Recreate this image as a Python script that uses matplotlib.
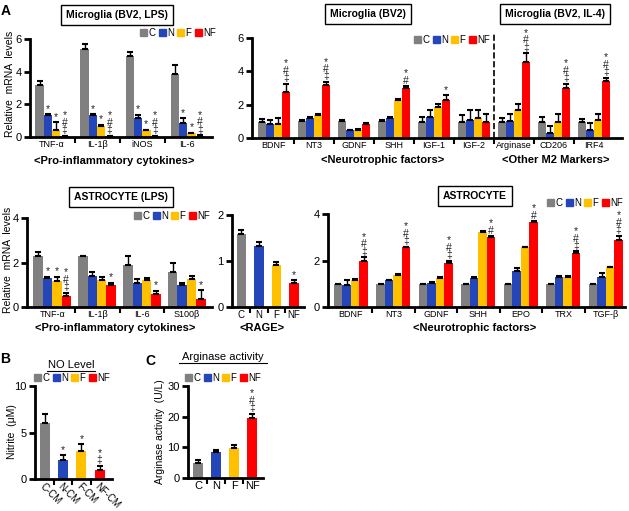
import matplotlib
matplotlib.use('Agg')
import matplotlib.pyplot as plt
from matplotlib.patches import Patch
from matplotlib.lines import Line2D
import numpy as np

plt.rcParams['font.family'] = ['Liberation Sans', 'DejaVu Sans']

W, H = 629, 511
conds = ['C', 'N', 'F', 'NF']
colors = ['#808080', '#2446B8', '#FFC000', '#FF0000']

# A - microglia BV2 + LPS (rows: C, N, F, NF)
mg_lps_genes = ['TNF-α', 'IL-1β', 'iNOS', 'IL-6']
mg_lps_mean = [[3.2, 5.4, 4.95, 3.85],
               [1.35, 1.35, 1.15, 0.85],
               [0.4, 0.7, 0.4, 0.22],
               [0.05, 0.05, 0.05, 0.08]]
mg_lps_err = [[0.2, 0.3, 0.25, 0.55],
              [0.05, 0.05, 0.2, 0.3],
              [0.5, 0.05, 0.05, 0.05],
              [0.02, 0.02, 0.02, 0.03]]
mg_lps_sig = [['', '', '', ''],
              ['*', '*', '*', '*'],
              ['*', '*', '*', '*'],
              ['*#‡', '*#‡', '*#‡', '*#‡']]

# A - microglia BV2 / BV2 + IL-4
mg_genes = ['BDNF', 'NT3', 'GDNF', 'SHH', 'IGF-1', 'IGF-2', 'Arginase', 'CD206', 'IRF4']
mg_mean = [[0.96, 1.02, 1.02, 1.02, 0.96, 0.96, 0.96, 0.96, 0.96],
           [0.86, 1.22, 0.46, 1.2, 1.26, 1.06, 1.02, 0.3, 0.5],
           [0.86, 1.4, 0.5, 2.3, 1.86, 1.22, 1.66, 0.96, 1.06],
           [2.76, 3.16, 0.86, 3.02, 2.3, 0.96, 4.56, 3.02, 3.42]]
mg_err = [[0.2, 0.05, 0.05, 0.05, 0.3, 0.4, 0.26, 0.3, 0.2],
          [0.2, 0.05, 0.03, 0.03, 0.4, 0.6, 0.4, 0.4, 0.4],
          [0.32, 0.05, 0.03, 0.05, 0.16, 0.48, 0.36, 0.46, 0.36],
          [0.5, 0.2, 0.05, 0.08, 0.26, 0.5, 0.54, 0.24, 0.2]]
mg_sig = [[''] * 9, [''] * 9, [''] * 9,
          ['*#‡', '*#‡', '', '*#', '*', '', '*#‡', '*#‡', '*#‡']]

# A - astrocyte + LPS
as_lps_genes = ['TNF-α', 'IL-1β', 'IL-6', 'S100β']
as_lps_mean = [[2.3, 2.28, 1.9, 1.57],
               [1.3, 1.38, 1.1, 1.0],
               [1.15, 1.2, 1.2, 1.25],
               [0.5, 1.0, 0.6, 0.35]]
as_lps_err = [[0.15, 0.03, 0.4, 0.4],
              [0.05, 0.18, 0.15, 0.1],
              [0.2, 0.15, 0.1, 0.14],
              [0.14, 0.1, 0.12, 0.4]]
as_lps_sig = [['', '', '', ''],
              ['*', '', '', ''],
              ['*', '', '', ''],
              ['*#‡', '*', '*', '*']]

# A - RAGE
rage_mean = [1.58, 1.33, 0.92, 0.52]
rage_err = [0.1, 0.09, 0.05, 0.06]
rage_sig = ['', '', '', '*']

# A - astrocyte
as_genes = ['BDNF', 'NT3', 'GDNF', 'SHH', 'EPO', 'TRX', 'TGF-β']
as_mean = [[0.99, 0.99, 0.99, 0.99, 0.99, 0.99, 0.99],
           [0.96, 1.14, 1.03, 1.23, 1.56, 1.31, 1.31],
           [1.17, 1.37, 1.26, 3.23, 2.56, 1.31, 1.71],
           [1.96, 2.56, 1.91, 3.0, 3.66, 2.34, 2.89]]
as_err = [[0.01] * 7,
          [0.18, 0.03, 0.03, 0.04, 0.11, 0.03, 0.14],
          [0.03, 0.04, 0.03, 0.03, 0.02, 0.03, 0.03],
          [0.18, 0.03, 0.08, 0.04, 0.03, 0.05, 0.17]]
as_sig = [[''] * 7, [''] * 7, [''] * 7,
          ['*#‡', '*#‡', '*#‡', '*#', '*#', '*#‡', '*#‡']]

# B - NO level
no_labels = ['C-CM', 'N-CM', 'F-CM', 'NF-CM']
no_mean = [6.0, 2.05, 3.0, 1.0]
no_err = [1.0, 0.5, 0.75, 0.45]
no_sig = ['', '*', '*', '*‡']

# C - arginase activity
arg_mean = [4.9, 8.5, 9.8, 19.7]
arg_err = [0.9, 0.7, 1.0, 1.3]
arg_sig = ['', '', '', '*#‡']


def rect(l, t, r, b):
    return [l / W, 1 - b / H, (r - l) / W, (b - t) / H]


def ftext(x, y, s, **kw):
    kw.setdefault('ha', 'center')
    kw.setdefault('va', 'center')
    fig.text(x / W, 1 - y / H, s, **kw)


def mark(ax, x, top, s, pad):
    if s:
        ax.text(x, top + pad, '\n'.join(s), ha='center', va='bottom',
                fontsize=7.5, linespacing=0.68, color='#222222')


def style(ax, n, labels, xlim, ylim, yticks, lsize=6.5):
    c = np.arange(n)
    ax.set_xlim(xlim)
    ax.set_ylim(ylim)
    for s in ['top', 'right']:
        ax.spines[s].set_visible(False)
    for s in ['left', 'bottom']:
        ax.spines[s].set_linewidth(2)
    ax.set_yticks(yticks)
    ax.set_xticks(c[:-1] + 0.5)
    ax.set_xticklabels([])
    ax.set_xticks(c, labels, minor=True)
    ax.tick_params(axis='x', which='major', length=4, width=1.5)
    ax.tick_params(axis='x', which='minor', length=0, labelsize=lsize, pad=2)
    ax.tick_params(axis='y', length=4, width=2, labelsize=8, pad=2)


def grouped(ax, labels, means, errs, sigs, width, xlim, ylim, yticks):
    x = np.arange(len(labels))
    pad = ylim[1] * 0.005
    for k in range(4):
        xs = x + (k - 1.5) * width
        ax.bar(xs, means[k], width, color=colors[k], zorder=2)
        ax.errorbar(xs, means[k], yerr=[np.zeros(len(x)), errs[k]], fmt='none',
                    ecolor='black', elinewidth=1, capsize=2.5, capthick=1.5, zorder=3)
        for xi, m, e, s in zip(xs, means[k], errs[k], sigs[k]):
            mark(ax, xi, m + e, s, pad)
    style(ax, len(labels), labels, xlim, ylim, yticks)


def single(ax, labels, means, errs, sigs, width, xlim, ylim, yticks, lsize=7):
    x = np.arange(len(labels))
    pad = ylim[1] * 0.005
    ax.bar(x, means, width, color=colors, zorder=2)
    ax.errorbar(x, means, yerr=[np.zeros(len(x)), errs], fmt='none',
                ecolor='black', elinewidth=1, capsize=2.5, capthick=1.5, zorder=3)
    for xi, m, e, s in zip(x, means, errs, sigs):
        mark(ax, xi, m + e, s, pad)
    style(ax, len(labels), labels, xlim, ylim, yticks, lsize)


def legend(x, y):
    h = [Patch(color=c, label=l) for c, l in zip(colors, conds)]
    fig.legend(handles=h, loc='center', bbox_to_anchor=(x / W, 1 - y / H), ncol=4,
               frameon=False, fontsize=7, handlelength=0.7, handleheight=0.7,
               handletextpad=0.15, columnspacing=0.35, borderpad=0, borderaxespad=0)


def box_title(x, y, s):
    ftext(x, y, s, fontsize=7.5, fontweight='bold',
          bbox=dict(boxstyle='square,pad=0.45', fc='white', ec='black', lw=1))


fig = plt.figure(figsize=(W / 100, H / 100), dpi=100)

ax1 = fig.add_axes(rect(30, 39, 212, 137))
grouped(ax1, mg_lps_genes, mg_lps_mean, mg_lps_err, mg_lps_sig, 0.185,
        (-0.49, 3.55), (0, 6), [0, 2, 4, 6])

ax2 = fig.add_axes(rect(252, 38, 622, 138))
grouped(ax2, mg_genes, mg_mean, mg_err, mg_sig, 0.2,
        (-0.55, 8.7), (0, 6), [0, 2, 4, 6])
ax2.plot([5.5, 5.5], [0, 6.35], ls='--', color='black', lw=1.2, clip_on=False)

ax3 = fig.add_axes(rect(27, 218, 212, 307))
grouped(ax3, as_lps_genes, as_lps_mean, as_lps_err, as_lps_sig, 0.21,
        (-0.56, 3.56), (0, 4), [0, 2, 4])

ax4 = fig.add_axes(rect(232, 215, 304, 307))
single(ax4, conds, rage_mean, rage_err, rage_sig, 0.54,
       (-0.54, 3.57), (0, 2), [0, 1, 2])

ax5 = fig.add_axes(rect(328, 214, 625, 307))
grouped(ax5, as_genes, as_mean, as_err, as_sig, 0.2,
        (-0.54, 6.45), (0, 4), [0, 2, 4])

ax6 = fig.add_axes(rect(35, 386, 112, 479))
single(ax6, no_labels, no_mean, no_err, no_sig, 0.55,
       (-0.55, 3.68), (0, 10), [0, 5, 10], lsize=7)
for t in ax6.get_xticklabels(minor=True):
    t.set_rotation(-45)
    t.set_ha('left')
    t.set_va('top')
    t.set_rotation_mode('anchor')

ax7 = fig.add_axes(rect(188, 386, 263, 478))
single(ax7, conds, arg_mean, arg_err, arg_sig, 0.55,
       (-0.56, 3.6), (0, 30), [0, 10, 20, 30], lsize=8)

# titles, legends, labels
box_title(117, 15, 'Microglia (BV2, LPS)')
box_title(368, 14, 'Microglia (BV2)')
box_title(555, 14, 'Microglia (BV2, IL-4)')
box_title(121, 197, 'ASTROCYTE (LPS)')
box_title(475, 196, 'ASTROCYTE')

legend(178, 33)
legend(452, 40)
legend(172, 216)
legend(585, 203)
legend(72, 378)
legend(223, 378)

bold = dict(fontsize=8, fontweight='bold')
ftext(114, 161, '<Pro-inflammatory cytokines>', **bold)
ftext(383, 160, '<Neurotrophic factors>', **bold)
ftext(556, 160, '<Other M2 Markers>', **bold)
ftext(115, 328, '<Pro-inflammatory cytokines>', **bold)
ftext(262, 328, '<RAGE>', **bold)
ftext(475, 328, '<Neurotrophic factors>', **bold)

ftext(10, 84, 'Relative  mRNA  levels', fontsize=7.5, rotation=90)
ftext(8, 260, 'Relative  mRNA  levels', fontsize=7.5, rotation=90)
ftext(12, 432, 'Nitrite  (μM)', fontsize=7.5, rotation=90)
ftext(160, 432, 'Arginase activity  (U/L)', fontsize=7.5, rotation=90)

ftext(6, 11, 'A', fontsize=10, fontweight='bold')
ftext(5, 359, 'B', fontsize=10, fontweight='bold')
ftext(150, 361, 'C', fontsize=10, fontweight='bold')

ftext(71, 365, 'NO Level', fontsize=8)
fig.add_artist(Line2D([47 / W, 95 / W], [1 - 371 / H] * 2, color='black', lw=0.8))
ftext(223, 357, 'Arginase activity', fontsize=8)
fig.add_artist(Line2D([179 / W, 267 / W], [1 - 363 / H] * 2, color='black', lw=0.8))

fig.savefig('out.png', dpi=100)
